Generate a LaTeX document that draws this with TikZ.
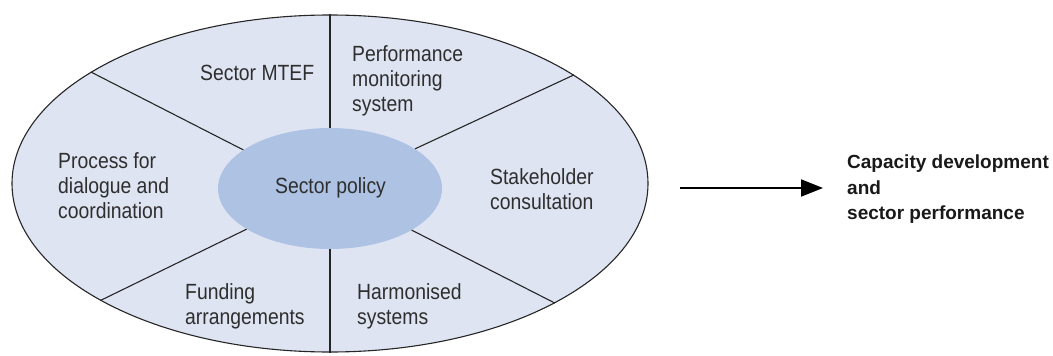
\documentclass[tikz,border=0pt]{standalone}
\usepackage{fontspec}
\setmainfont{Liberation Sans}
\newfontfamily\narrowfont{Liberation Sans}[FakeStretch=0.88]
\usetikzlibrary{shapes.geometric,arrows.meta}
\definecolor{ringfill}{HTML}{DEE4F2}
\definecolor{corefill}{HTML}{AEC2E3}
\definecolor{labeltext}{HTML}{2E2E2E}

\begin{document}
\begin{tikzpicture}[x=1pt,y=-1pt,
    ring/.style ={ellipse, draw=black!85, line width=1.1pt, fill=ringfill, inner sep=0pt},
    core/.style ={ellipse, fill=corefill, inner sep=0pt},
    segment/.style ={anchor=north west, inner sep=0pt, align=left, text=labeltext,
                     font=\narrowfont\fontsize{22}{25}\selectfont},
    divider/.style ={draw=black!85, line width=1.1pt},
    outcome/.style ={anchor=north west, inner sep=0pt, align=left, text=black!90,
                     font=\bfseries\fontsize{19}{25.5}\selectfont}]
   \useasboundingbox (0,0) rectangle (1053,356);
   \node[ring, minimum width=636pt, minimum height=337pt] (outer) at (330,183.5) {};
   \node[core, minimum width=224pt, minimum height=121pt] (inner) at (330,188.5) {};
   \draw[divider] (outer.90)    to (inner.90);
   \draw[divider] (outer.155.3) to (inner.156);
   \draw[divider] (outer.24.7)  to (inner.25.7);
   \draw[divider] (outer.207)   to (inner.206);
   \draw[divider] (outer.332.6) to (inner.333.5);
   \draw[divider] (outer.270)   to (inner.270);
   \node[segment, anchor=base] (policy) at (330.5,193) {Sector policy};
   \node[segment] (mtef)    at (200,65)  {Sector MTEF};
   \node[segment] (monitor) at (352,45)  {Performance\\monitoring\\system};
   \node[segment] (dialog)  at (58,152)  {Process for\\dialogue and\\coordination};
   \node[segment] (consult) at (490,168) {Stakeholder\\consultation};
   \node[segment] (funding) at (185,283) {Funding\\arrangements};
   \node[segment] (harmon)  at (357,283) {Harmonised\\systems};
   \node[outcome] (result)  at (847,155) {Capacity development\\and\\sector performance};
   \coordinate (arrowstart) at (680,188);
   \draw[line width=2pt, -{Triangle[length=22pt,width=17pt]}, shorten >=24pt]
      (arrowstart) to (arrowstart -| result.west);
\end{tikzpicture}
\end{document}
